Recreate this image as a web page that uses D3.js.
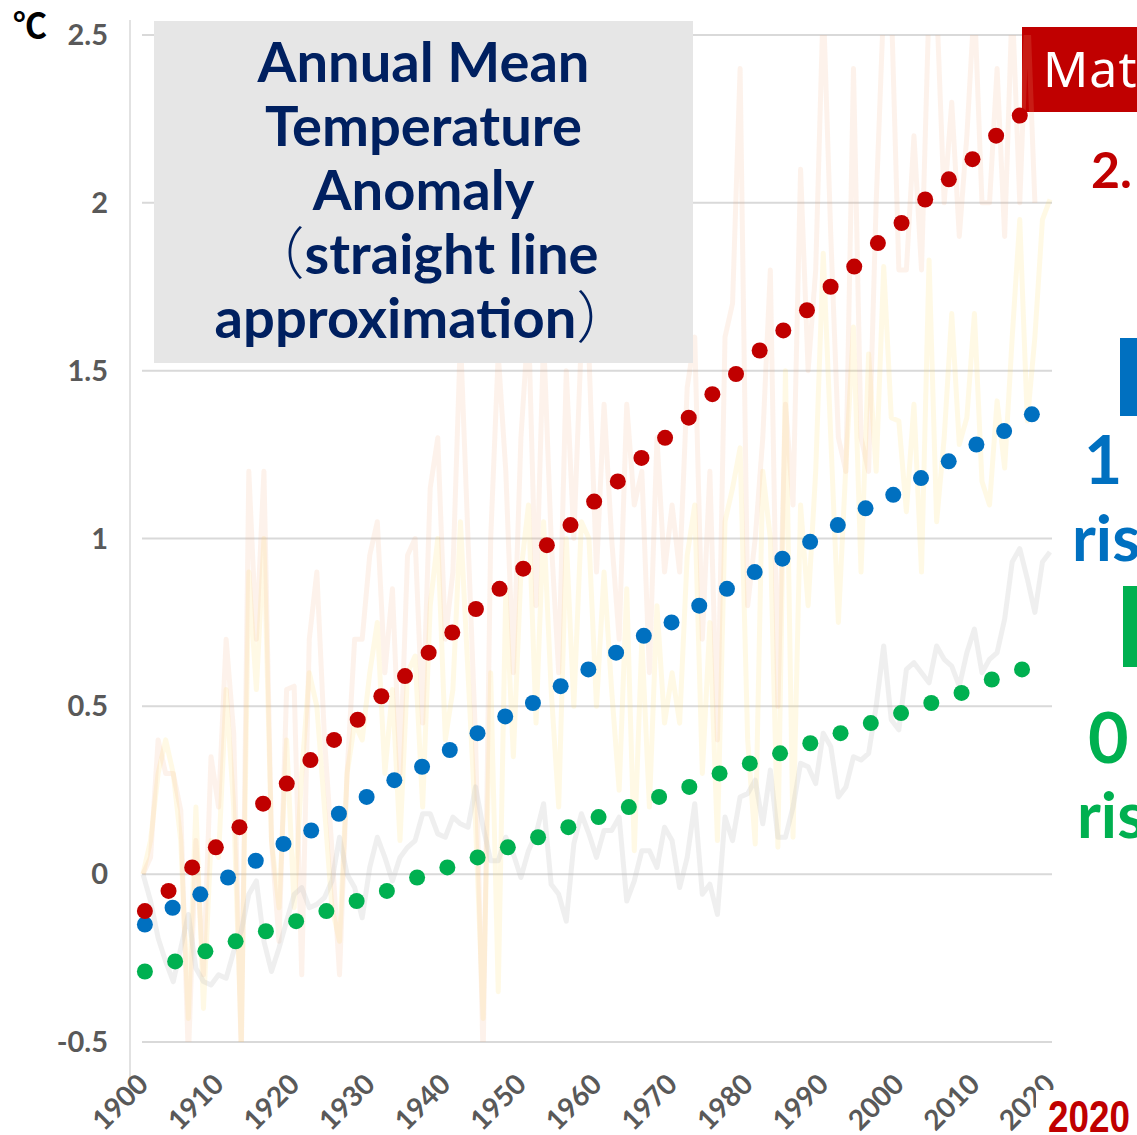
<!DOCTYPE html>
<html>
<head>
<meta charset="utf-8">
<script src="https://cdn.jsdelivr.net/npm/d3@7"></script>
<style>
body { margin: 0; background: #fff; overflow: hidden; }
svg { display: block; }
</style>
</head>
<body>
<div id="chart"></div>
<script>
//data
var firstYear = 1900;
var tickYears = [1900, 1910, 1920, 1930, 1940, 1950, 1960, 1970, 1980, 1990, 2000, 2010, 2020];
var yTicks = [-0.5, 0, 0.5, 1, 1.5, 2, 2.5];

// annual anomaly lines (faint)
var greyLine = [
  0.00,-0.08,-0.19,-0.26,-0.32,-0.22,-0.12,-0.28,-0.32,-0.33,
  -0.30,-0.31,-0.23,-0.17,-0.06,-0.02,-0.20,-0.29,-0.22,-0.14,
  -0.06,-0.04,-0.10,-0.09,-0.07,-0.02,0.11,0.00,-0.04,-0.13,
  0.02,0.11,0.05,-0.02,0.05,0.08,0.10,0.18,0.18,0.12,
  0.11,0.17,0.15,0.14,0.26,0.14,0.04,0.04,0.11,0.06,
  -0.01,0.07,0.12,0.21,-0.03,-0.06,-0.14,0.09,0.18,0.12,
  0.05,0.13,0.13,0.17,-0.08,-0.02,0.07,0.07,0.02,0.14,
  0.10,-0.04,0.05,0.21,-0.06,-0.03,-0.12,0.17,0.10,0.23,
  0.24,0.28,0.15,0.31,0.11,0.11,0.20,0.33,0.32,0.27,
  0.42,0.38,0.23,0.26,0.35,0.34,0.36,0.50,0.68,0.46,
  0.43,0.61,0.63,0.60,0.57,0.68,0.64,0.62,0.56,0.66,
  0.73,0.60,0.64,0.66,0.76,0.93,0.97,0.88,0.78,0.93,
  0.96
];
var pinkLine = [
  0.00,0.05,0.40,0.30,0.30,0.19,-0.55,0.10,-0.30,0.35,
  0.20,0.70,0.42,-0.55,1.20,0.70,1.20,0.10,-0.20,0.55,
  0.56,-0.30,0.70,0.90,0.41,0.07,-0.30,0.30,0.70,0.70,
  0.95,1.05,0.60,0.85,0.30,0.95,1.00,0.45,1.15,1.30,
  0.70,0.90,1.60,1.00,0.40,-0.55,1.00,1.55,1.20,0.60,
  1.30,1.65,0.80,1.60,1.00,0.60,1.50,1.00,1.60,1.55,
  0.90,1.40,1.00,0.70,1.40,1.10,1.20,0.60,1.30,0.90,
  1.10,0.90,1.45,1.60,0.70,1.20,0.40,1.60,1.70,2.40,
  0.80,1.00,1.30,1.80,0.50,1.40,1.10,2.10,1.50,1.80,
  2.60,1.90,1.30,1.20,2.40,1.30,1.20,2.00,2.60,2.60,
  1.80,1.80,2.20,1.80,2.60,2.60,2.00,2.30,1.90,2.20,
  2.60,2.00,2.00,2.40,1.90,2.60,2.00,2.60,2.00
];
var yellowLine = [
  0.00,0.10,0.30,0.40,0.30,0.10,-0.43,0.20,-0.40,0.10,
  0.05,0.55,0.20,-0.50,0.90,0.55,1.00,0.10,-0.10,0.40,
  -0.10,0.30,0.60,0.50,0.20,-0.10,-0.20,0.30,0.45,0.40,
  0.60,0.75,0.30,0.55,0.10,0.60,0.65,0.20,0.80,1.00,
  0.40,0.55,1.05,0.60,0.15,-0.43,0.60,-0.35,0.85,0.35,
  0.90,1.10,0.45,1.05,0.55,0.20,1.00,0.50,1.05,1.00,
  0.50,0.90,0.55,0.25,0.85,0.07,0.70,0.20,0.80,0.45,
  0.60,0.45,0.95,1.10,0.30,0.75,0.10,1.05,1.15,1.27,
  0.40,0.09,1.20,1.00,0.08,1.50,0.11,1.10,0.80,1.20,
  1.85,1.30,0.75,1.22,1.63,0.90,1.55,1.20,1.81,1.36,
  1.35,1.08,1.40,0.90,1.83,1.05,1.30,1.67,1.28,1.36,
  1.67,1.17,1.10,1.41,1.21,1.60,1.95,1.35,1.60,1.95,
  2.01
];

// straight line approximations (dots)
var redDots = [-0.11,-0.05,0.02,0.08,0.14,0.21,0.27,0.34,0.40,0.46,0.53,0.59,0.66,0.72,0.79,0.85,0.91,0.98,1.04,1.11,
  1.17,1.24,1.30,1.36,1.43,1.49,1.56,1.62,1.68,1.75,1.81,1.88,1.94,2.01,2.07,2.13,2.20,2.26];
var blueDots = [-0.15,-0.10,-0.06,-0.01,0.04,0.09,0.13,0.18,0.23,0.28,0.32,0.37,0.42,0.47,0.51,0.56,0.61,
  0.66,0.71,0.75,0.80,0.85,0.90,0.94,0.99,1.04,1.09,1.13,1.18,1.23,1.28,1.32,1.37];
var greenDots = [-0.29,-0.26,-0.23,-0.20,-0.17,-0.14,-0.11,-0.08,-0.05,-0.01,0.02,0.05,0.08,0.11,0.14,
  0.17,0.20,0.23,0.26,0.30,0.33,0.36,0.39,0.42,0.45,0.48,0.51,0.54,0.58,0.61];
var dotStart = 1900.25;
var redEnd = 2016, blueEnd = 2017.6, greenEnd = 2016.3;

// title lines: [paren before, text, paren after]
var titleLines = [
  ["", "Annual Mean", ""],
  ["", "Temperature", ""],
  ["", "Anomaly", ""],
  ["\uFF08", "straight line", ""],
  ["", "approximation", "\uFF09"]
];

//define svg
var svgWidth = 1137;
var svgHeight = 1135;

var svg = d3.select("#chart")
  .append("svg")
  .attr("width", svgWidth)
  .attr("height", svgHeight);

//scales
var x = d3.scaleLinear().domain([1900, 2020]).range([143, 1050]);
var y = d3.scaleLinear().domain([-0.5, 2.5]).range([1042, 35]);

var font = "Lato, 'Noto Sans CJK JP', sans-serif";

//gridlines
svg.append("g")
  .selectAll("line")
  .data(yTicks)
  .join("line")
  .attr("x1", 142)
  .attr("x2", 1052)
  .attr("y1", d => y(d))
  .attr("y2", d => y(d))
  .attr("stroke", "#D9D9D9")
  .attr("stroke-width", 2);

//red label box (under the faint lines)
svg.append("rect")
  .attr("x", 1022).attr("y", 27)
  .attr("width", 130).attr("height", 85)
  .attr("fill", "#C00000");
svg.append("text")
  .attr("x", 1043).attr("y", 87)
  .style("font-family", "'Noto Sans', sans-serif")
  .style("font-size", "50px")
  .attr("letter-spacing", 1)
  .attr("fill", "#fff")
  .text("Matsumoto");

//clip for faint lines
svg.append("clipPath").attr("id", "plotclip")
  .append("rect")
  .attr("x", 130).attr("y", y(2.5))
  .attr("width", 930).attr("height", y(-0.5) - y(2.5));

var line = d3.line()
  .x((d, i) => x(firstYear + i))
  .y(d => y(d));

var lines = svg.append("g").attr("clip-path", "url(#plotclip)");

lines.append("path")
  .datum(yellowLine)
  .attr("d", line)
  .attr("fill", "none")
  .attr("stroke", "#FFD966")
  .attr("stroke-opacity", 0.17)
  .attr("stroke-width", 5)
  .attr("stroke-linejoin", "round");

lines.append("path")
  .datum(pinkLine)
  .attr("d", line)
  .attr("fill", "none")
  .attr("stroke", "#F4B183")
  .attr("stroke-opacity", 0.16)
  .attr("stroke-width", 5)
  .attr("stroke-linejoin", "round");

lines.append("path")
  .datum(greyLine)
  .attr("d", line)
  .attr("fill", "none")
  .attr("stroke", "#BFBFBF")
  .attr("stroke-opacity", 0.25)
  .attr("stroke-width", 5)
  .attr("stroke-linejoin", "round");

//title box
svg.append("rect")
  .attr("x", 154).attr("y", 21)
  .attr("width", 539).attr("height", 342)
  .attr("fill", "#E6E6E6");

var title = svg.append("g")
  .selectAll("text")
  .data(titleLines)
  .join("text")
  .attr("x", 423.5)
  .attr("y", (d, i) => 82 + i * 64)
  .attr("text-anchor", "middle")
  .style("font-family", font)
  .style("font-weight", "bold")
  .style("font-size", "54px")
  .attr("fill", "#002060");

title.each(function(d) {
  var t = d3.select(this);
  if (d[0]) t.append("tspan").style("font-family", "'Noto Sans CJK JP'").style("font-weight", "300").text(d[0]);
  t.append("tspan").text(d[1]);
  if (d[2]) t.append("tspan").style("font-family", "'Noto Sans CJK JP'").style("font-weight", "300").text(d[2]);
});

// fit title size to first line width
var w0 = title.node().getComputedTextLength();
title.style("font-size", (54 * 332 / w0) + "px");

//dots
function drawDots(values, endYear, color) {
  var px = d3.scalePoint()
    .domain(d3.range(values.length))
    .range([x(dotStart), x(endYear)]);
  svg.append("g")
    .selectAll("circle")
    .data(values)
    .join("circle")
    .attr("cx", (d, i) => px(i))
    .attr("cy", d => y(d))
    .attr("r", 8)
    .attr("fill", color);
}
drawDots(greenDots, greenEnd, "#00B050");
drawDots(blueDots, blueEnd, "#0070C0");
drawDots(redDots, redEnd, "#C00000");

//vertical axis line
svg.append("line")
  .attr("x1", 130).attr("x2", 130)
  .attr("y1", 20).attr("y2", 1094)
  .attr("stroke", "#D9D9D9")
  .attr("stroke-width", 1.5);

//y labels
svg.append("g")
  .selectAll("text")
  .data(yTicks)
  .join("text")
  .attr("x", 108)
  .attr("y", d => y(d) + 10)
  .attr("text-anchor", "end")
  .style("font-family", font)
  .style("font-weight", "bold")
  .style("font-size", "29px")
  .attr("fill", "#595959")
  .text(d => String(d));

svg.append("text")
  .attr("x", 13).attr("y", 38)
  .style("font-family", "'Noto Sans CJK JP', sans-serif")
  .style("font-weight", "bold")
  .style("font-size", "34px")
  .attr("fill", "#000")
  .text("\u2103");

//x labels
svg.append("g")
  .selectAll("text")
  .data(tickYears)
  .join("text")
  .attr("transform", d => "translate(" + (x(d) + 7) + ",1086) rotate(-45)")
  .attr("text-anchor", "end")
  .style("font-family", font)
  .style("font-weight", "bold")
  .style("font-size", "28px")
  .attr("fill", "#595959")
  .text(d => d);

//red 2020 note
svg.append("rect")
  .attr("x", 1036).attr("y", 1090)
  .attr("width", 101).attr("height", 45)
  .attr("fill", "#fff");
svg.append("text")
  .attr("x", 1048).attr("y", 1132)
  .attr("textLength", 82)
  .attr("lengthAdjust", "spacingAndGlyphs")
  .style("font-family", "'Liberation Sans', sans-serif")
  .style("font-weight", "bold")
  .style("font-size", "44px")
  .attr("fill", "#C00000")
  .text("2020");

//right side labels (cut off by the edge)
var redNote = svg.append("text")
  .attr("x", 1091).attr("y", 188)
  .style("font-family", font)
  .style("font-weight", "bold")
  .style("font-size", "50px")
  .attr("fill", "#C00000");
redNote.append("tspan").text("2.");
redNote.append("tspan").attr("dx", 8).text("0");

svg.append("rect")
  .attr("x", 1120).attr("y", 338)
  .attr("width", 30).attr("height", 78)
  .attr("fill", "#0070C0");
svg.append("text")
  .attr("x", 1084).attr("y", 484)
  .style("font-family", font)
  .style("font-weight", "bold")
  .style("font-size", "66px")
  .attr("fill", "#0070C0")
  .text("1");
svg.append("text")
  .attr("x", 1072).attr("y", 561)
  .style("font-family", font)
  .style("font-weight", "bold")
  .style("font-size", "64px")
  .attr("fill", "#0070C0")
  .text("rise");

svg.append("rect")
  .attr("x", 1123).attr("y", 586)
  .attr("width", 30).attr("height", 81)
  .attr("fill", "#00B050");
svg.append("text")
  .attr("x", 1088).attr("y", 763)
  .style("font-family", font)
  .style("font-weight", "bold")
  .style("font-size", "70px")
  .attr("fill", "#00B050")
  .text("0");
svg.append("text")
  .attr("x", 1077).attr("y", 838)
  .style("font-family", font)
  .style("font-weight", "bold")
  .style("font-size", "64px")
  .attr("fill", "#00B050")
  .text("rise");
</script>
</body>
</html>
